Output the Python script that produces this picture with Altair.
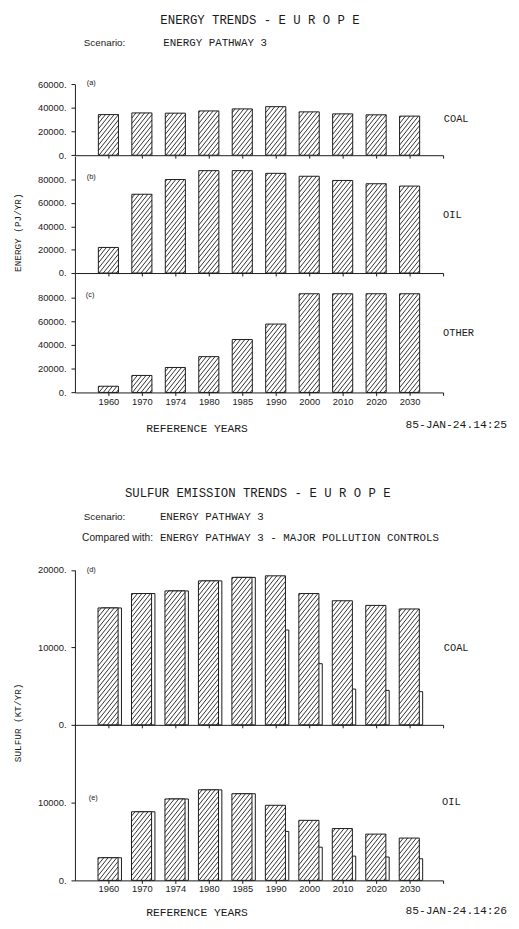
import altair as alt
import pandas as pd

# ---------------- data ----------------
years = ["1960", "1970", "1974", "1980", "1985", "1990", "2000", "2010", "2020", "2030"]
idx = list(range(1, len(years) + 1))

energy_coal = [34400, 35800, 35600, 37500, 39200, 41100, 36700, 35000, 34200, 33100]
energy_oil = [21900, 67400, 80000, 87600, 87600, 85300, 82800, 79200, 76400, 74400]
energy_other = [5200, 14300, 21000, 30100, 44500, 57500, 83000, 83000, 83000, 83000]

sulfur_coal_ep3 = [15100, 16960, 17300, 18600, 19050, 19250, 16960, 16030, 15430, 14970]
sulfur_coal_mpc = [15100, 16960, 17300, 18600, 19050, 12250, 7900, 4620, 4450, 4290]
sulfur_oil_ep3 = [2900, 8790, 10430, 11600, 11100, 9620, 7690, 6640, 5930, 5420]
sulfur_oil_mpc = [2900, 8790, 10430, 11600, 11100, 6270, 4250, 3110, 2990, 2770]

energy_ticks_a = [0, 20000, 40000, 60000]
energy_ticks_bc = [0, 20000, 40000, 60000, 80000]
sulfur_ticks_d = [0, 10000, 20000]
sulfur_ticks_e = [0, 10000]

# ---------------- layout / style ----------------
W, H = 511, 913
INK = "#1a1a1a"
MONO = "Liberation Mono"
SANS = "Liberation Sans"
X0, X1 = 68, 442          # x axis pixel extent (domain 0..11)
KX = (X1 - X0) / 11.0

x_scale = alt.Scale(domain=[0, 11], range=[X0, X1], nice=False, zero=False)
year_js = "[" + ",".join("'%s'" % y for y in years) + "]"


def x_axis(zero_px, labels, pad=1):
    return alt.Axis(orient="bottom", offset=zero_px - H, values=list(range(1, 12)),
                    labels=labels, labelExpr="datum.value <= 10 ? %s[datum.value - 1] : ''" % year_js,
                    title=None, grid=False, domainColor=INK, tickColor=INK, tickSize=3,
                    domainWidth=1, tickWidth=1, labelFont=SANS, labelFontSize=9.5,
                    labelColor=INK, labelPadding=pad, labelOverlap=False, labelFlush=False,
                    labelBound=False)


def y_axis(vals):
    return alt.Axis(orient="left", offset=-X0, values=vals, labelExpr="datum.value + '.'",
                    title=None, grid=False, domainColor=INK, tickColor=INK, tickSize=4,
                    domainWidth=1, tickWidth=1, labelFont=SANS, labelFontSize=9.5,
                    labelColor=INK, labelPadding=5, labelOverlap=False, labelFlush=False,
                    labelBound=False)


def hatch(values, left, width, ky, s=1.25, dv=5.5):
    rows = []
    for i, v in zip(idx, values):
        x0 = i + left
        wp = width * KX
        hp = v * ky
        c = -s * wp + dv * 0.5
        while c < hp:
            xa = max(0.0, -c / s)
            xb = min(wp, (hp - c) / s)
            if xb - xa > 0.2:
                rows.append({"x": x0 + xa / KX, "x2": x0 + xb / KX,
                             "y": (s * xa + c) / ky, "y2": (s * xb + c) / ky})
            c += dv
    return pd.DataFrame(rows)


def panel(values, domain, rng, ticks, zero_px, labels, pad=1, back=None, left=-0.3, width=0.6):
    ky = abs(rng[0] - rng[1]) / float(domain[1] - domain[0])
    y_scale = alt.Scale(domain=domain, range=rng, nice=False, zero=False)
    xa = x_axis(zero_px, labels, pad)
    ya = y_axis(ticks)
    df = pd.DataFrame({"i": idx, "year": years, "v": values})
    layers = []
    if back is not None:
        dfb = pd.DataFrame({"i": idx, "year": years, "v": back})
        layers.append(
            alt.Chart(dfb).transform_calculate(a="datum.i + %f" % (left + 0.1),
                                               b="datum.i + %f" % (left + 0.1 + width))
            .mark_rect(fill="white", stroke=INK, strokeWidth=1)
            .encode(x=alt.X("a:Q", scale=x_scale, axis=xa), x2="b:Q",
                    y=alt.Y("v:Q", scale=y_scale, axis=ya), y2=alt.datum(0))
        )
    layers.append(
        alt.Chart(df).transform_calculate(a="datum.i + %f" % left, b="datum.i + %f" % (left + width))
        .mark_rect(fill="white", stroke=INK, strokeWidth=1)
        .encode(x=alt.X("a:Q", scale=x_scale, axis=xa), x2="b:Q",
                y=alt.Y("v:Q", scale=y_scale, axis=ya), y2=alt.datum(0))
    )
    layers.append(
        alt.Chart(hatch(values, left, width, ky)).mark_rule(color=INK, strokeWidth=0.9)
        .encode(x=alt.X("x:Q", scale=x_scale, axis=xa), x2="x2:Q",
                y=alt.Y("y:Q", scale=y_scale, axis=ya), y2="y2:Q")
    )
    return alt.layer(*layers)


def txt(s, x, y, size, font=MONO, align="left", angle=0):
    return alt.Chart(pd.DataFrame({"t": [s]})).mark_text(
        align=align, baseline="middle", font=font, fontSize=size, color=INK, angle=angle
    ).encode(x=alt.value(x), y=alt.value(y), text="t:N")


pa = panel(energy_coal, [0, 60000], [142.3, 70.3], energy_ticks_a, 142.3, False)
pb = panel(energy_oil, [0, 100000], [262, 143.25], energy_ticks_bc, 262, False)
pc = panel(energy_other, [0, 100000], [383.3, 262.5], energy_ticks_bc, 383.3, True, pad=1.5)
pd_ = panel(sulfur_coal_ep3, [0, 20000], [721, 563.7], sulfur_ticks_d, 721, False,
            back=sulfur_coal_mpc, left=-0.31)
pe = panel(sulfur_oil_ep3, [0, 20000], [879, 720.4], sulfur_ticks_e, 879, True, pad=0,
           back=sulfur_oil_mpc, left=-0.31)

texts = [
    txt("ENERGY TRENDS - E U R O P E", 256, 4.8, 12.5, align="center"),
    txt("Scenario:", 77, 28, 10, font=SANS),
    txt("ENERGY PATHWAY 3", 157.7, 28, 11),
    txt("(a)", 80, 69, 7.5, font=SANS),
    txt("COAL", 442.7, 106, 10.5),
    txt("(b)", 80, 164, 7.5, font=SANS),
    txt("OIL", 442, 202.7, 10.5),
    txt("(c)", 79, 284.3, 7.5, font=SANS),
    txt("OTHER", 442, 322.7, 10.5),
    txt("ENERGY (PJ/YR)", 10, 221, 9.5, align="center", angle=270),
    txt("REFERENCE YEARS", 192, 420.3, 11.5, align="center"),
    txt("85-JAN-24.14:25", 403.7, 416, 11.5),
    txt("SULFUR EMISSION TRENDS - E U R O P E", 253.7, 485.3, 12.5, align="center"),
    txt("Scenario:", 77, 510.3, 10, font=SANS),
    txt("ENERGY PATHWAY 3", 154.3, 510.3, 11),
    txt("Compared with:", 75.3, 531.3, 10.3, font=SANS),
    txt("ENERGY PATHWAY 3 - MAJOR POLLUTION CONTROLS", 154.3, 531.3, 11),
    txt("(d)", 80, 563.7, 7.5, font=SANS),
    txt("COAL", 442.7, 642.7, 10.5),
    txt("SULFUR (KT/YR)", 10, 719, 9.5, align="center", angle=270),
    txt("(e)", 82, 795.3, 7.5, font=SANS),
    txt("OIL", 441, 799.7, 10.5),
    txt("REFERENCE YEARS", 192, 912, 11.5, align="center"),
    txt("85-JAN-24.14:26", 403.7, 910.5, 11.5),
]

chart = (
    alt.layer(pa, pb, pc, pd_, pe, *texts)
    .resolve_scale(y="independent")
    .resolve_axis(x="independent", y="independent")
    .properties(width=W, height=H, autosize=alt.AutoSizeParams(type="none"), padding=0,
                background="white")
    .configure_view(strokeWidth=0)
)

chart.save("out.html", embed_options={"renderer": "svg", "actions": False})
